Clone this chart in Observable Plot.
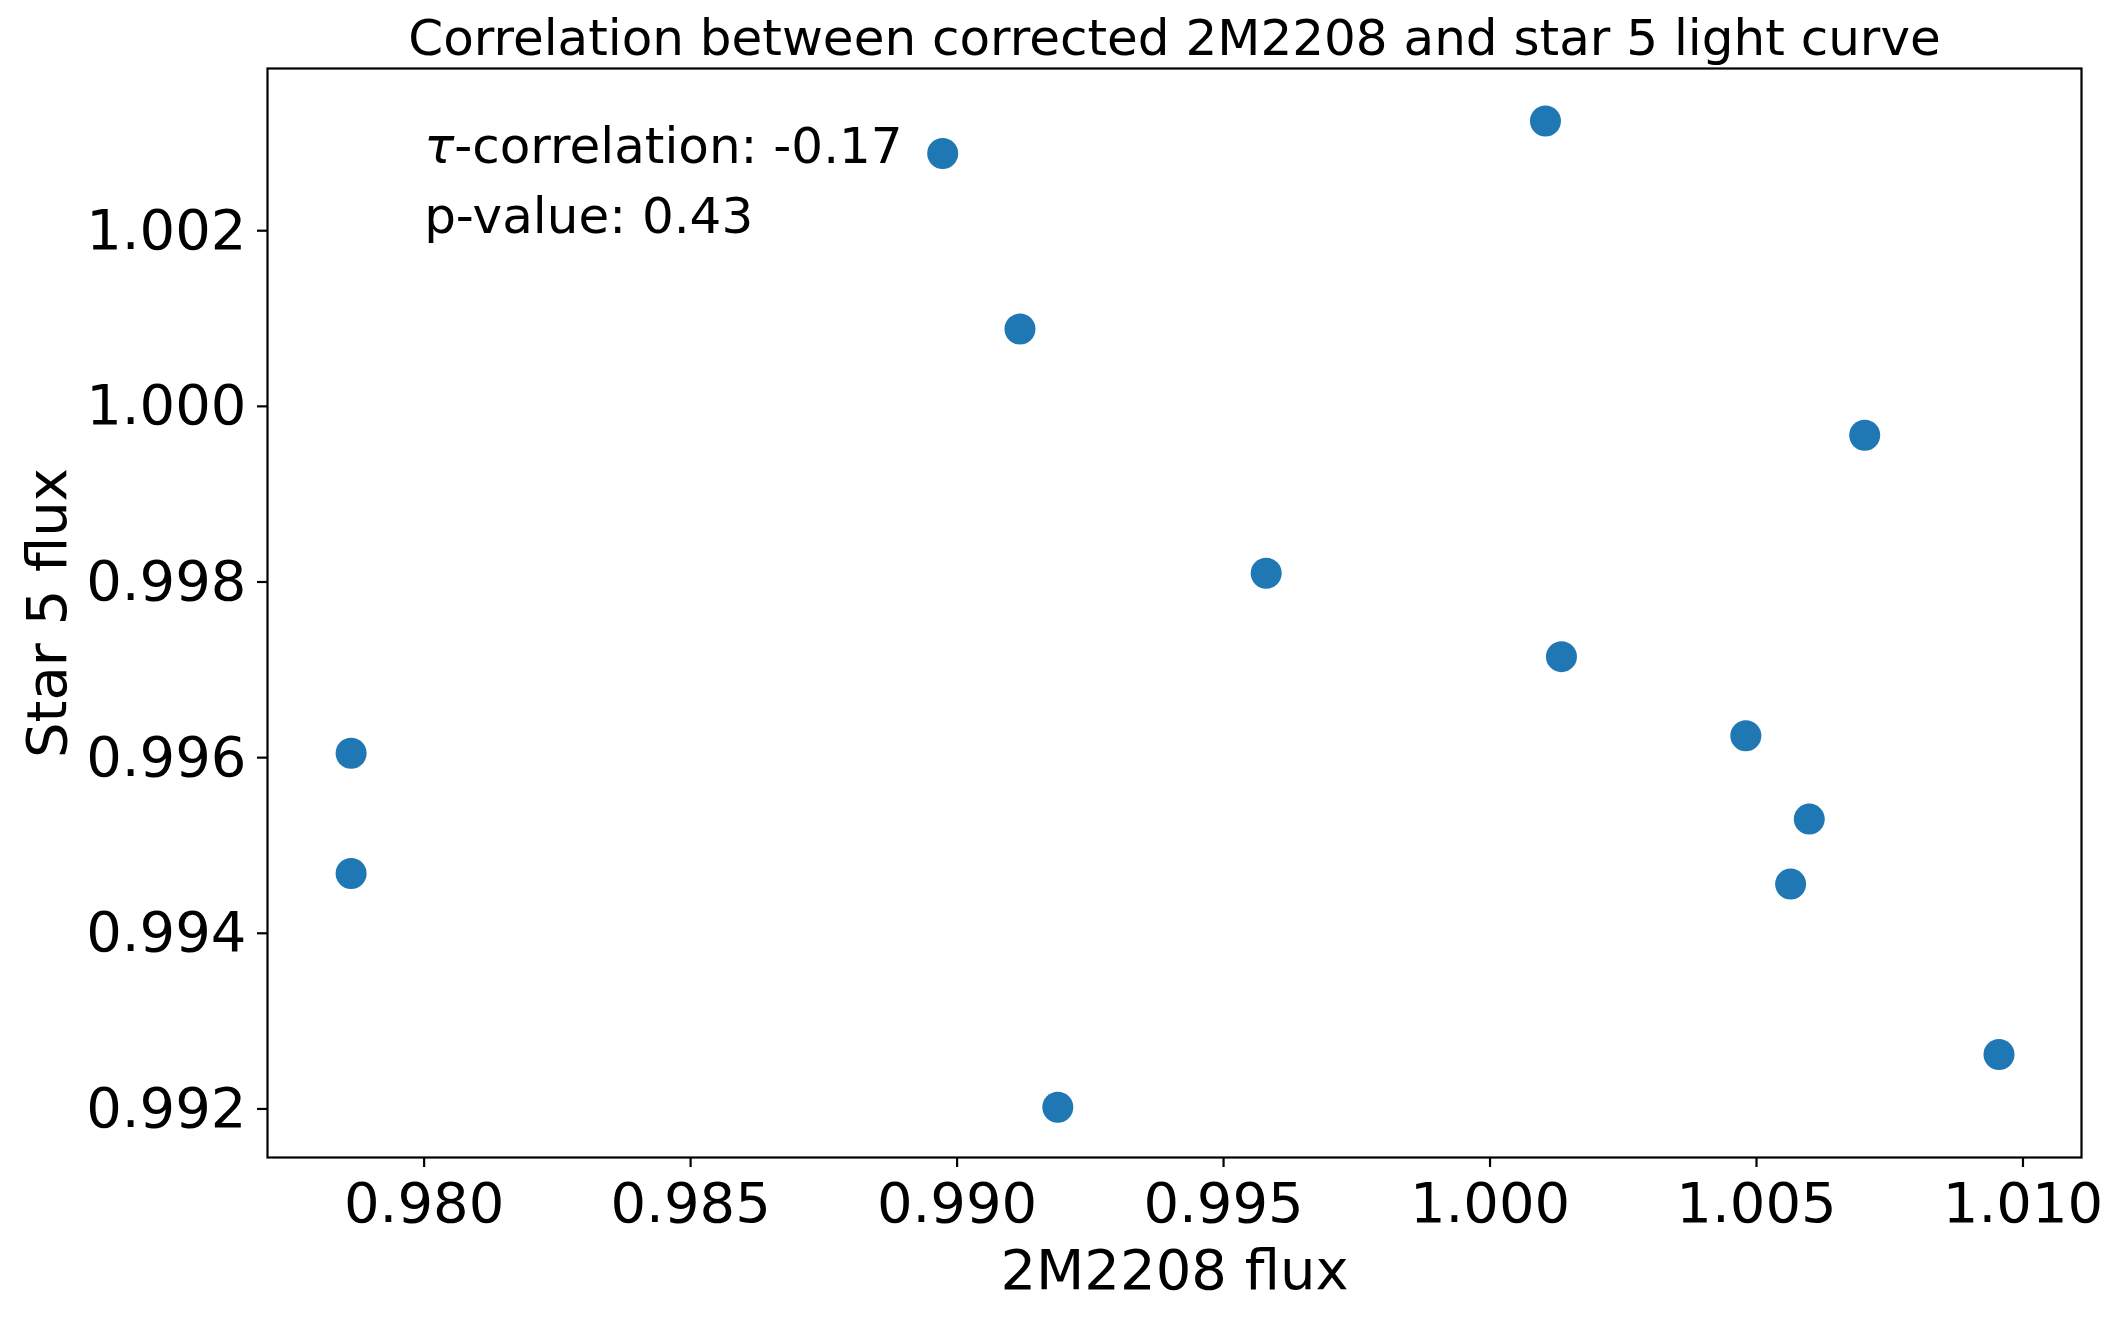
<!DOCTYPE html>
<html>
<head>
<meta charset="utf-8">
<script src="https://cdn.jsdelivr.net/npm/d3@7"></script>
<script src="https://cdn.jsdelivr.net/npm/@observablehq/plot@0.6"></script>
<style>
  html, body { margin: 0; padding: 0; background: white; }
</style>
</head>
<body>
<div id="chart"></div>
<script>
// Data
const fluxTarget = [0.98973, 1.00104, 0.99118, 1.00703, 0.99580, 1.00134, 0.97863, 1.00480, 1.00599, 0.97863, 1.00564, 1.00955, 0.99189];
const fluxStar5  = [1.00288, 1.00325, 1.00088, 0.99967, 0.99810, 0.99715, 0.99605, 0.99625, 0.99530, 0.99468, 0.99456, 0.99262, 0.99202];

const xTicks = [0.980, 0.985, 0.990, 0.995, 1.000, 1.005, 1.010];
const yTicks = [0.992, 0.994, 0.996, 0.998, 1.000, 1.002];

const titleText = "Correlation between corrected 2M2208 and star 5 light curve";
const xLabel = "2M2208 flux";
const yLabel = "Star 5 flux";

const annotationText = ["τ-correlation: -0.17", "p-value: 0.43"];
const annotationX = [0.980, 0.980];
const annotationY = [1.00277, 1.00197];

const points = fluxTarget.map((x, i) => ({x, y: fluxStar5[i]}));
const annotations = annotationText.map((t, i) => ({text: t, x: annotationX[i], y: annotationY[i]}));

const fmt = d3.format(".3f");

const chart = Plot.plot({
  width: 2122,
  height: 1317,
  marginLeft: 267,
  marginRight: 41,
  marginTop: 68,
  marginBottom: 160,
  style: {fontFamily: "DejaVu Sans", background: "white", color: "black"},
  x: {domain: [0.977061, 1.011098]},
  y: {domain: [0.991447, 1.003847]},
  marks: [
    Plot.axisX({ticks: xTicks, tickFormat: fmt, tickSize: 10, tickPadding: 15, fontSize: 56, label: null, strokeWidth: 2.2}),
    Plot.axisY({ticks: yTicks, tickFormat: fmt, tickSize: 10, tickPadding: 11, fontSize: 56, label: null, strokeWidth: 2.2}),
    Plot.dot(points, {x: "x", y: "y", r: 15.5, fill: "#1f77b4", stroke: "none"}),
    Plot.text(annotations, {x: "x", y: "y", text: "text", textAnchor: "start", lineAnchor: "bottom", fontSize: 50, fill: "black"}),
    Plot.frame({stroke: "black", strokeWidth: 2.2}),
    Plot.text([titleText], {frameAnchor: "top", textAnchor: "middle", lineAnchor: "bottom", dy: -14, fontSize: 50, fill: "black"}),
    Plot.text([xLabel], {frameAnchor: "bottom", textAnchor: "middle", lineAnchor: "bottom", dy: 131, fontSize: 56, fill: "black"}),
    Plot.text([yLabel], {frameAnchor: "left", textAnchor: "middle", lineAnchor: "bottom", rotate: -90, dx: -202, fontSize: 56, fill: "black"})
  ]
});

document.getElementById("chart").appendChild(chart);

// Render the tau in italics like mathtext
chart.querySelectorAll("text").forEach(t => {
  if (t.textContent.startsWith("τ")) {
    const rest = t.textContent.slice(1);
    const host = t.querySelector("tspan") || t;
    host.textContent = "";
    const ns = "http://www.w3.org/2000/svg";
    const a = document.createElementNS(ns, "tspan");
    a.setAttribute("font-style", "italic");
    a.textContent = "τ";
    const b = document.createElementNS(ns, "tspan");
    b.textContent = rest;
    host.appendChild(a);
    host.appendChild(b);
  }
});
</script>
</body>
</html>
